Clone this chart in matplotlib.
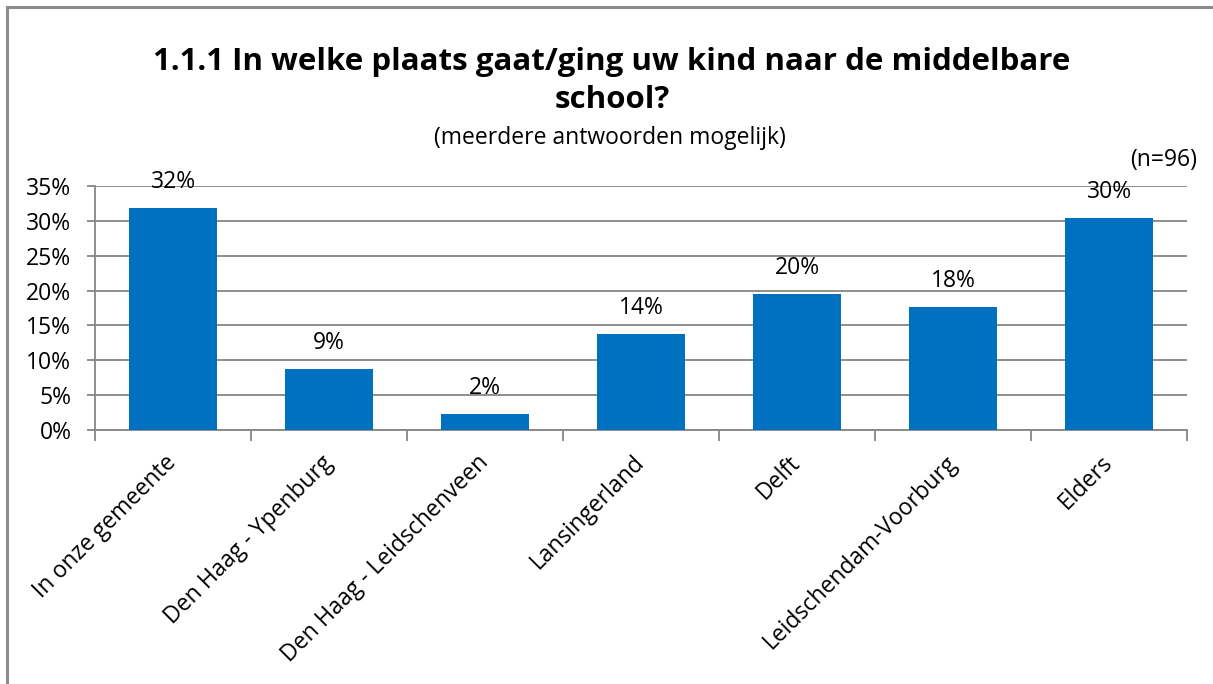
import matplotlib.pyplot as plt
from matplotlib.patches import Rectangle

categories = ["In onze gemeente", "Den Haag - Ypenburg", "Den Haag - Leidschenveen",
              "Lansingerland", "Delft", "Leidschendam-Voorburg", "Elders"]
values = [31.9, 8.8, 2.3, 13.8, 19.5, 17.6, 30.4]
yticks = [0, 5, 10, 15, 20, 25, 30, 35]


def main():
    plt.rcParams['font.family'] = ['Open Sans', 'DejaVu Sans']
    W, H = 1213, 684
    fig = plt.figure(figsize=(W / 100, H / 100), dpi=100)

    # outer frame (only top and left edges visible in the original)
    fig.patches.append(Rectangle((7 / W, -0.1), 1.2, 1 - 7 / H + 0.1, transform=fig.transFigure,
                                 fill=False, edgecolor='#8c8c8c', linewidth=2.2))

    ax = fig.add_axes([95 / W, 1 - 430 / H, (1187 - 95) / W, (430 - 186) / H])
    x = range(len(categories))
    bars = ax.bar(x, values, width=0.57, color='#0070c0', zorder=3)

    for b, v in zip(bars, values):
        ax.annotate(f"{round(v)}%", (b.get_x() + b.get_width() / 2, v),
                    xytext=(0, 10), textcoords='offset points',
                    ha='center', va='bottom', fontsize=16.5, zorder=4)

    ax.set_xlim(-0.5, len(categories) - 0.5)
    ax.set_ylim(0, 35)
    ax.set_yticks(yticks)
    ax.set_yticklabels([f"{t}%" for t in yticks], fontsize=16.5)
    ax.yaxis.grid(True, color='#868686', linewidth=1.3, zorder=0)
    ax.tick_params(axis='y', length=6, width=1.3, color='#868686', pad=11)

    ax.set_xticks([i + 0.5 for i in range(-1, len(categories))], minor=True)
    ax.set_xticks(list(x))
    ax.set_xticklabels(categories, rotation=45, ha='right', va='center',
                       rotation_mode='anchor', fontsize=16.5)
    ax.tick_params(axis='x', which='major', length=0, pad=21)
    ax.tick_params(axis='x', which='minor', length=8, width=1.3, color='#868686', direction='out')

    for side in ['top', 'right']:
        ax.spines[side].set_visible(False)
    for side in ['left', 'bottom']:
        ax.spines[side].set_color('#868686')
        ax.spines[side].set_linewidth(1.3)

    fig.text(612 / W, 1 - 62 / H, "1.1.1 In welke plaats gaat/ging uw kind naar de middelbare",
             ha='center', va='center', fontsize=22.5, fontweight='bold')
    fig.text(612 / W, 1 - 100 / H, "school?", ha='center', va='center',
             fontsize=22.5, fontweight='bold')
    fig.text(610 / W, 1 - 138 / H, "(meerdere antwoorden mogelijk)", ha='center',
             va='center', fontsize=16.5)
    fig.text(1197 / W, 1 - 160 / H, "(n=96)", ha='right', va='center', fontsize=16.5)

    fig.savefig("out.png", dpi=100)


if __name__ == "__main__":
    main()
